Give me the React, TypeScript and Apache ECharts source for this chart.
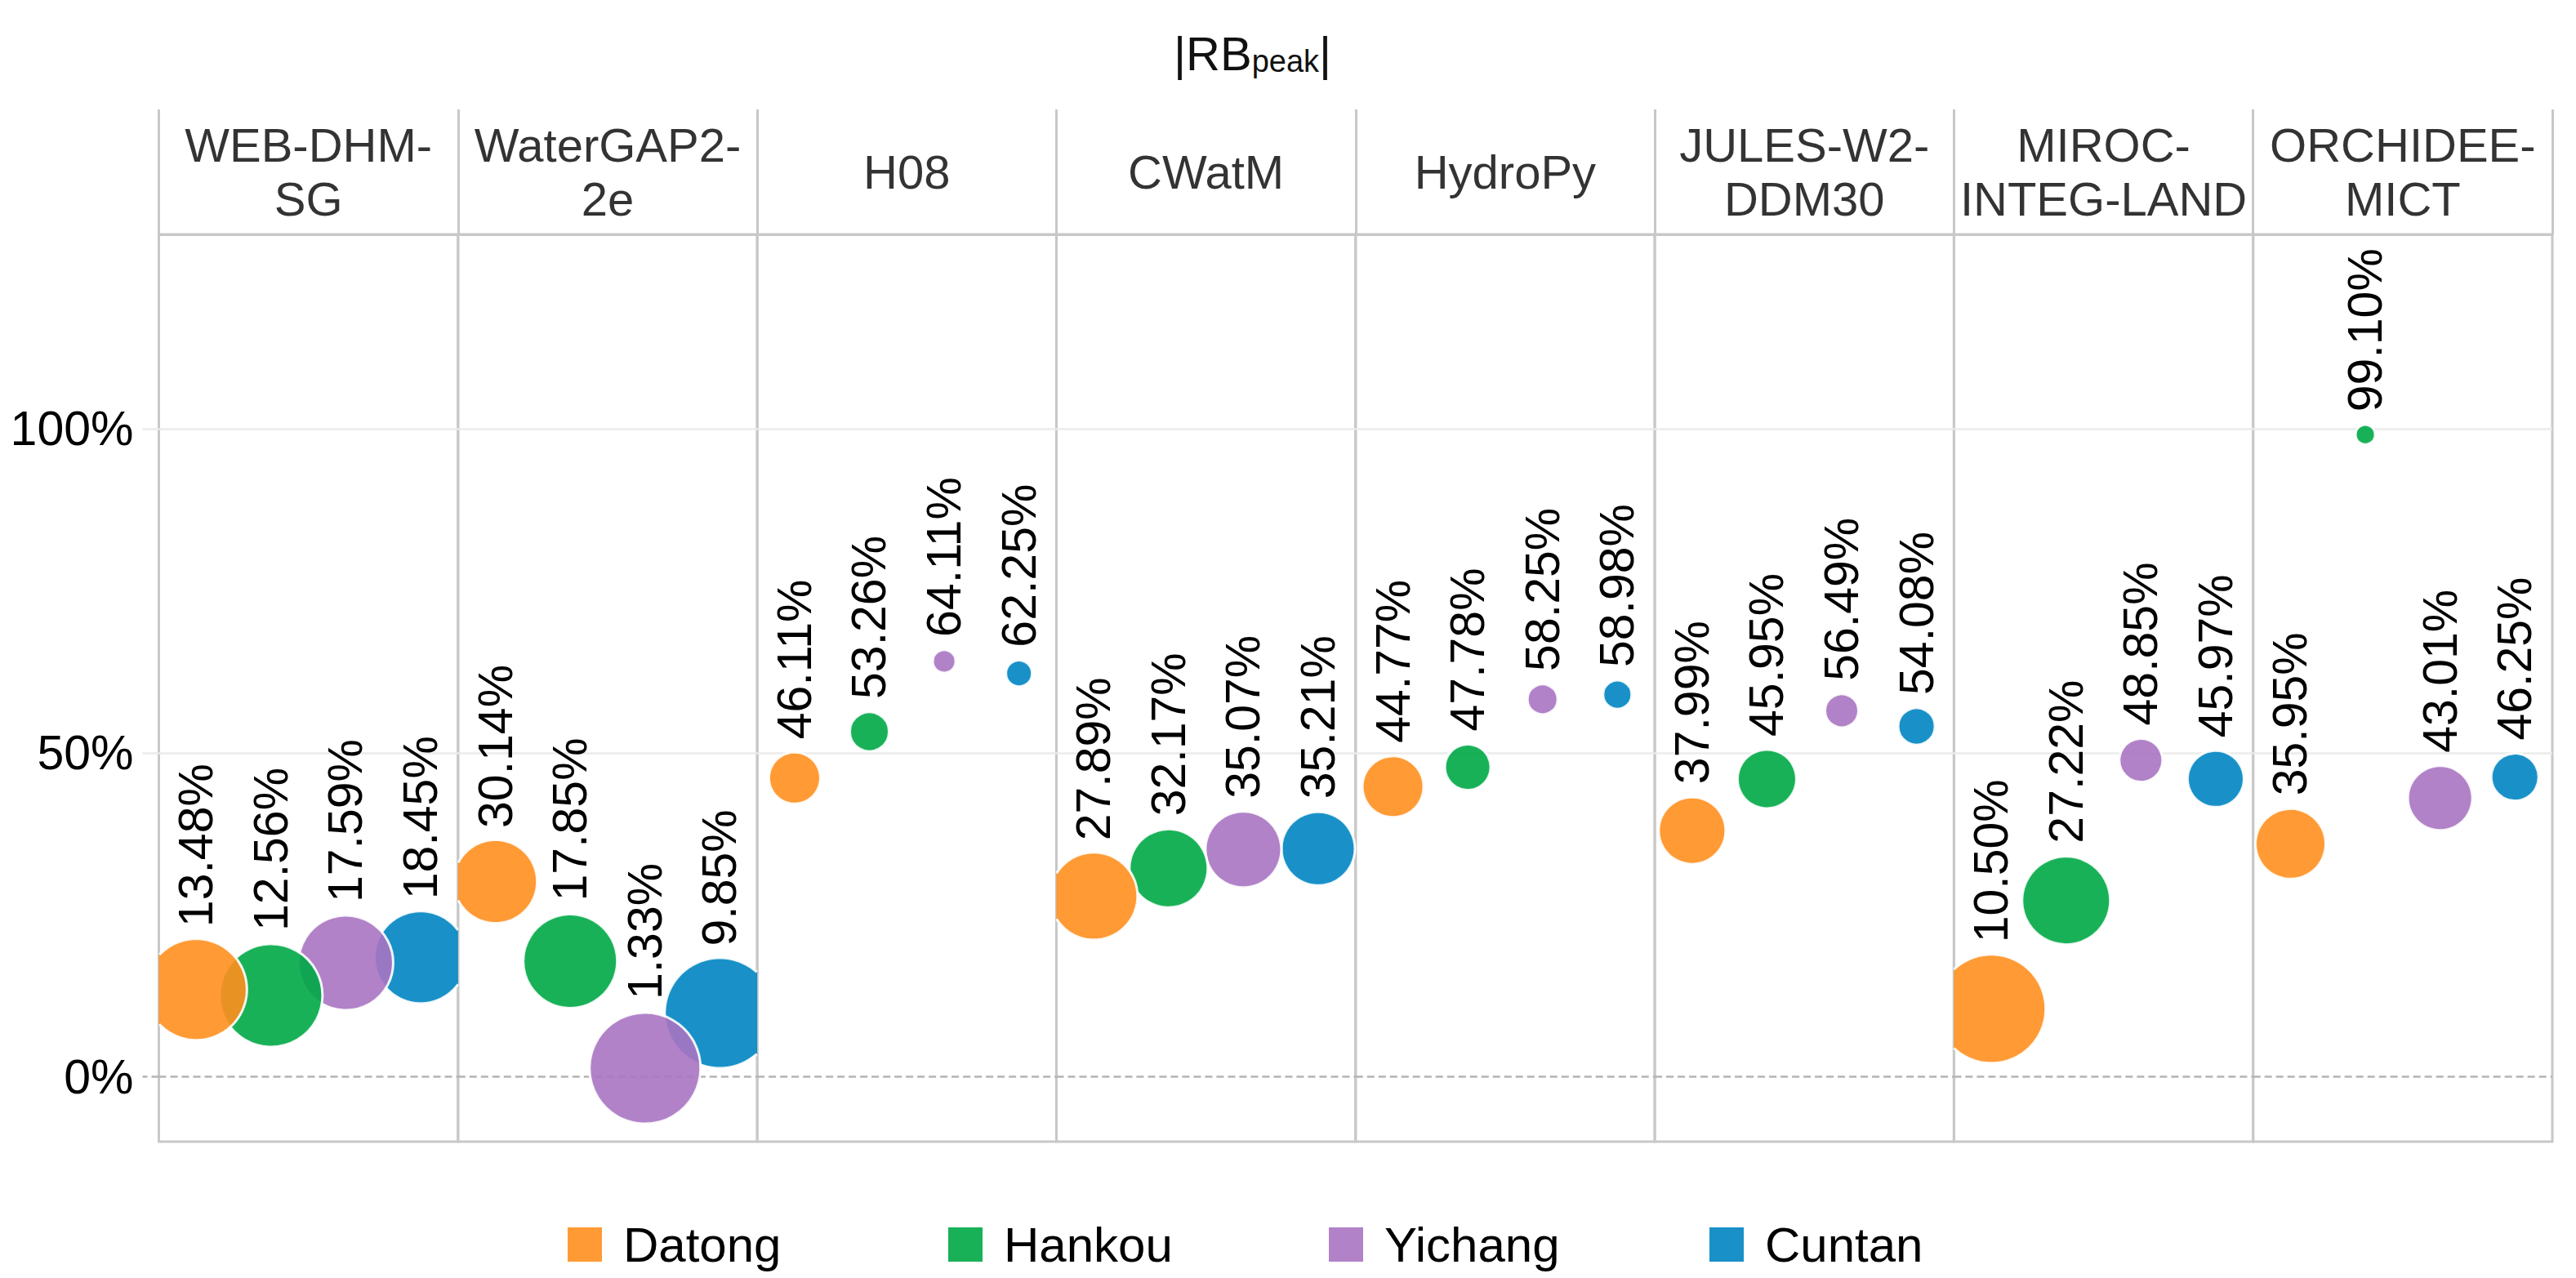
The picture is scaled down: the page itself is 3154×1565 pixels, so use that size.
import React, { useEffect, useRef } from 'react';
import * as echarts from 'echarts';

const FONT = '"Liberation Sans", Arial, sans-serif';

const models = [
  'WEB-DHM-\nSG',
  'WaterGAP2-\n2e',
  'H08',
  'CWatM',
  'HydroPy',
  'JULES-W2-\nDDM30',
  'MIROC-\nINTEG-LAND',
  'ORCHIDEE-\nMICT',
];
const stations = ['Datong', 'Hankou', 'Yichang', 'Cuntan'];

// |RBpeak| values (%) per model
const datong = [13.48, 30.14, 46.11, 27.89, 44.77, 37.99, 10.5, 35.95];
const hankou = [12.56, 17.85, 53.26, 32.17, 47.78, 45.95, 27.22, 99.1];
const yichang = [17.59, 1.33, 64.11, 35.07, 58.25, 56.49, 48.85, 43.01];
const cuntan = [18.45, 9.85, 62.25, 35.21, 58.98, 54.08, 45.97, 46.25];

// bubble diameters
const datongSize = [121, 99, 63, 104, 75, 82, 130, 86];
const hankouSize = [126, 115, 48, 96, 56, 72, 108, 24];
const yichangSize = [116, 136, 28, 93, 37, 41, 53, 79];
const cuntanSize = [110, 132, 32, 90, 35, 45, 69, 58];

const yTicks = [0, 50, 100];
const yMin = -10;
const yMax = 130;

const stationColors = ['#FF8F1F', '#00A846', '#A974C2', '#0085C2'];

function makeRenderItem(color: string) {
  return (params: any, api: any) => {
    const v = api.value(1);
    const size = api.value(2);
    const pt = api.coord([api.value(0), v]);
    const r = size / 2;
    const cs = params.coordSys;
    const x0 = cs.x;
    const x1 = cs.x + cs.width;
    const y0 = cs.y;
    const y1 = cs.y + cs.height;
    const label = {
      type: 'text',
      x: pt[0],
      y: pt[1] - r - 16,
      rotation: Math.PI / 2,
      style: {
        text: `${Number(v).toFixed(2)}%`,
        fontSize: 59,
        fontFamily: FONT,
        fill: '#000',
        align: 'left',
        verticalAlign: 'middle',
      },
    };
    const inside = pt[0] - r >= x0 && pt[0] + r <= x1 && pt[1] - r >= y0 && pt[1] + r <= y1;
    if (inside) {
      return {
        type: 'group',
        children: [
          {
            type: 'circle',
            shape: { cx: pt[0], cy: pt[1], r },
            style: { fill: color, opacity: 0.9, stroke: '#fff', lineWidth: 3 },
          },
          label,
        ],
      };
    }
    // bubble cut by the panel edge: clamp the outline to the panel
    const N = 240;
    const pts: number[][] = [];
    const ins: (number[] | null)[] = [];
    for (let j = 0; j < N; j++) {
      const a = (2 * Math.PI * j) / N;
      const px = pt[0] + (r + 1.5) * Math.cos(a);
      const py = pt[1] + (r + 1.5) * Math.sin(a);
      pts.push([Math.min(Math.max(px, x0), x1), Math.min(Math.max(py, y0), y1)]);
      ins.push(px >= x0 && px <= x1 && py >= y0 && py <= y1 ? [px, py] : null);
    }
    const start = ins.findIndex((p) => p === null);
    const arcs: number[][][] = [];
    let cur: number[][] = [];
    for (let j = 1; j <= N; j++) {
      const p = ins[(start + j) % N];
      if (p) cur.push(p);
      else {
        if (cur.length > 1) arcs.push(cur);
        cur = [];
      }
    }
    if (cur.length > 1) arcs.push(cur);
    return {
      type: 'group',
      children: [
        {
          type: 'polygon',
          shape: { points: pts },
          style: { fill: color, opacity: 0.9 },
        },
        ...arcs.map((a) => ({
          type: 'polyline',
          shape: { points: a },
          style: { stroke: '#fff', lineWidth: 3, fill: 'none', opacity: 0.9 },
        })),
        label,
      ],
    };
  };
}

function buildOption() {
  const values = [datong, hankou, yichang, cuntan];
  const sizes = [datongSize, hankouSize, yichangSize, cuntanSize];
  const n = models.length;
  const plotLeft = 194.5;
  const plotWidth = 2930.5;
  const panelW = plotWidth / n;
  const plotTop = 287;
  const plotH = 1111;
  const borderColor = '#c8c8c8';
  const gridColor = '#ebebeb';
  const zeroColor = '#b4b4b4';

  const grid: any[] = [];
  const xAxis: any[] = [];
  const yAxis: any[] = [];
  const series: any[] = [];

  for (let i = 0; i < n; i++) {
    grid.push({
      left: plotLeft + i * panelW,
      top: plotTop,
      width: panelW,
      height: plotH,
      show: true,
      borderColor,
      borderWidth: 3,
      backgroundColor: 'transparent',
    });
    xAxis.push({
      type: 'category',
      gridIndex: i,
      data: stations,
      boundaryGap: true,
      axisLine: { show: false },
      axisTick: { show: false },
      axisLabel: { show: false },
      splitLine: { show: false },
    });
    yAxis.push({
      type: 'value',
      gridIndex: i,
      min: yMin,
      max: yMax,
      axisLine: { show: false },
      axisTick: {
        show: i === 0,
        customValues: i === 0 ? yTicks.filter((v) => v !== 0) : yTicks.filter((v) => v !== 0),
        length: 20,
        lineStyle: { color: gridColor, width: 2.5 },
      },
      axisLabel: {
        show: i === 0,
        customValues: yTicks,
        formatter: (v: number) => `${v}%`,
        fontSize: 59,
        fontFamily: FONT,
        color: '#000',
        margin: 31,
      },
      splitLine: {
        show: true,
        lineStyle: { color: gridColor, width: 2.5 },
      },
    });
    // draw Cuntan first so Datong ends up on top
    for (let k = stations.length - 1; k >= 0; k--) {
      const s: any = {
        type: 'custom',
        name: stations[k],
        xAxisIndex: i,
        yAxisIndex: i,
        itemStyle: { color: stationColors[k], opacity: 0.9 },
        encode: { x: 0, y: 1 },
        renderItem: makeRenderItem(stationColors[k]),
        emphasis: { disabled: true },
        silent: true,
        data: [[stations[k], values[k][i], sizes[k][i]]],
      };
      if (k === stations.length - 1) {
        s.markLine = {
          silent: true,
          symbol: 'none',
          z: 1,
          label: { show: false },
          lineStyle: { color: zeroColor, type: [9, 5], width: 2.5 },
          data: [{ yAxis: 0 }],
        };
      }
      series.push(s);
    }
  }

  // header row
  const hi = n;
  grid.push({
    left: plotLeft,
    top: 134,
    width: plotWidth,
    height: plotTop - 134,
    show: false,
  });
  xAxis.push({
    type: 'category',
    gridIndex: hi,
    data: models,
    boundaryGap: true,
    axisLine: { show: true, lineStyle: { color: borderColor, width: 3 } },
    axisTick: { show: false },
    axisLabel: { show: false },
    splitLine: { show: true, interval: 0, lineStyle: { color: borderColor, width: 3 } },
  });
  yAxis.push({
    type: 'value',
    gridIndex: hi,
    min: 0,
    max: 1,
    show: false,
    splitLine: { show: false },
  });
  // dashed tick for the zero line, left of the first panel
  yAxis.push({
    type: 'value',
    gridIndex: 0,
    min: yMin,
    max: yMax,
    position: 'left',
    axisLine: { show: false },
    axisLabel: { show: false },
    splitLine: { show: false },
    axisTick: {
      show: true,
      customValues: [0],
      length: 20,
      lineStyle: { color: zeroColor, width: 2.5, type: [9, 5] },
    },
  });
  series.push({
    type: 'scatter',
    name: 'header',
    xAxisIndex: hi,
    yAxisIndex: hi,
    symbolSize: 1,
    itemStyle: { color: 'rgba(0,0,0,0)' },
    label: {
      show: true,
      position: 'inside',
      formatter: '{b}',
      fontSize: 58,
      lineHeight: 66,
      fontFamily: FONT,
      color: '#000',
      align: 'center',
      verticalAlign: 'middle',
    },
    emphasis: { disabled: true },
    data: models.map((m) => ({ name: m, value: [m, 0.5] })),
  });

  return {
    animation: false,
    backgroundColor: '#fff',
    title: {
      left: 1437,
      top: 24,
      padding: 0,
      text: '{a||RB}{b|peak}{a||}',
      textStyle: {
        fontWeight: 'normal',
        rich: {
          a: { fontSize: 58, lineHeight: 70, color: '#111', fontFamily: FONT, fontWeight: 'normal', verticalAlign: 'bottom' },
          b: { fontSize: 38, lineHeight: 46, color: '#111', fontFamily: FONT, fontWeight: 'normal', verticalAlign: 'bottom' },
        },
      },
    },
    legend: {
      data: stations,
      left: 695,
      top: 1494,
      padding: 0,
      itemGap: 0,
      icon: 'rect',
      itemWidth: 42,
      itemHeight: 42,
      textStyle: {
        fontSize: 60,
        lineHeight: 60,
        fontFamily: FONT,
        color: '#000',
        width: 398,
        padding: [0, 0, 0, 21],
      },
    },
    grid,
    xAxis,
    yAxis,
    series,
  };
}

export default function App() {
  const ref = useRef<HTMLDivElement>(null);
  useEffect(() => {
    if (!ref.current) return;
    const chart = echarts.init(ref.current, null, { renderer: 'svg' });
    chart.setOption(buildOption() as any);
    return () => chart.dispose();
  }, []);
  return (
    <div
      ref={ref}
      style={{ position: 'fixed', left: 0, top: 0, width: 3154, height: 1565, background: '#fff' }}
    />
  );
}
